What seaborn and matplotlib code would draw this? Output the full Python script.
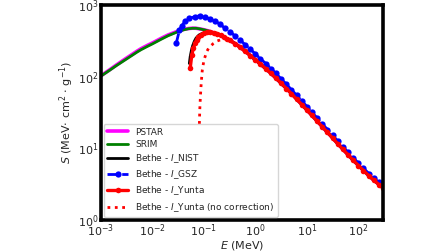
import numpy as np
import matplotlib
matplotlib.use("Agg")
import matplotlib.pyplot as plt
import seaborn as sns

# ---- data (energy in MeV, stopping power in MeV cm^2 / g) ----
E_pstar = [0.001, 0.0015, 0.002, 0.003, 0.004, 0.005, 0.006, 0.008, 0.01, 0.015, 0.02,
           0.03, 0.04, 0.05, 0.06, 0.07, 0.08, 0.1, 0.125, 0.15, 0.2, 0.25, 0.3, 0.4,
           0.5, 0.63, 0.8, 1.0, 1.6, 2.0, 3.15, 4, 5, 6.3, 8, 10, 16, 20, 31.5, 40, 50,
           63, 80, 100, 160, 200, 300]
S_pstar = [103, 126, 146, 178, 204, 227, 246, 274, 296, 345, 382,
           428, 456, 470, 475, 474, 467, 452, 433, 412, 380, 352, 330, 292,
           262, 228, 197, 172, 129.5, 111.8, 81.5, 68.6, 58.2, 48.9, 40.8, 34.4, 23.8, 20.0, 14.0, 11.6, 9.74,
           8.15, 6.80, 5.78, 4.15, 3.60, 2.83]
E_srim = E_pstar
S_srim = [102, 124, 143, 173, 198, 220, 238, 265, 287, 335, 372,
          420, 450, 467, 474, 474, 467, 452, 433, 412, 380, 352, 330, 292,
          262, 228, 197, 172, 129.5, 111.8, 81.5, 68.6, 58.2, 48.9, 40.8, 34.4, 23.8, 20.0, 14.0, 11.6, 9.74,
          8.15, 6.80, 5.78, 4.15, 3.60, 2.83]

E_nist = [0.052, 0.054, 0.057, 0.06, 0.065, 0.07, 0.08, 0.09, 0.1, 0.115, 0.131, 0.155, 0.18,
          0.21, 0.24, 0.28, 0.32, 0.4, 0.5, 0.63, 0.8, 1.0, 2.0, 5, 10, 20, 50, 100, 200, 300]
S_nist = [153, 190, 232, 268, 312, 345, 382, 398, 406, 414, 418, 413, 400,
          382, 363, 340, 322, 288, 258, 226, 196, 171, 111, 57.9, 34.2, 19.9, 9.69, 5.75, 3.58, 2.82]

E_gsz = [0.0289, 0.0334, 0.0371, 0.043, 0.0522, 0.067, 0.084, 0.105, 0.131, 0.164, 0.205,
         0.256, 0.32, 0.40, 0.50, 0.63, 0.8, 1.0, 1.25, 1.6, 2.0, 2.5, 3.15, 4, 5, 6.3, 8,
         10, 12.5, 16, 20, 25, 31.5, 40, 50, 63, 80, 100, 125, 160, 200, 250, 300]
S_gsz = [291, 447, 513, 596, 650, 690, 705, 682, 638, 596, 542,
         474, 423, 372, 326, 280, 241, 207, 178, 152, 130, 111, 93.3, 78.2, 66.0, 55.0, 45.7,
         38.3, 31.9, 26.2, 21.9, 18.3, 15.2, 12.6, 10.5, 8.8, 7.33, 6.21, 5.28, 4.44, 3.84, 3.34, 3.01]

E_yunta = [0.054, 0.058, 0.062, 0.067, 0.072, 0.078, 0.088, 0.1, 0.115, 0.131, 0.155, 0.18,
           0.21, 0.24, 0.28, 0.32, 0.4, 0.5, 0.63, 0.8, 1.0, 1.25, 1.6, 2.0, 2.5, 3.15, 4, 5,
           6.3, 8, 10, 12.5, 16, 20, 25, 31.5, 40, 50, 63, 80, 100, 125, 160, 200, 250, 300]
S_yunta = [131, 200, 248, 291, 328, 358, 388, 405, 416, 419, 413, 400,
           382, 363, 340, 322, 288, 258, 226, 196, 171, 150, 129, 111, 95.6, 81.1, 68.3, 57.9,
           48.7, 40.6, 34.2, 28.8, 23.7, 19.9, 16.7, 13.9, 11.5, 9.69, 8.11, 6.77, 5.75, 4.90,
           4.13, 3.58, 3.12, 2.82]

E_nocorr = [0.0815, 0.083, 0.085, 0.0875, 0.09, 0.093, 0.1, 0.113, 0.125, 0.152, 0.18,
            0.221, 0.26, 0.32, 0.4, 0.5, 0.63, 0.8, 1.0]
S_nocorr = [22, 35, 50, 72, 95, 125, 170, 223, 255, 290, 315,
            331, 336, 320, 288, 258, 226, 196, 171]

labels = ["PSTAR", "SRIM", r"Bethe - $I$_NIST", r"Bethe - $I$_GSZ",
          r"Bethe - $I$_Yunta", r"Bethe - $I$_Yunta (no correction)"]

# ---- plot ----
sns.set_style("white")
plt.rcParams["font.family"] = ["DejaVu Sans"]

fig = plt.figure(figsize=(4.48, 2.52), dpi=100)
ax = fig.add_axes([0.2254, 0.127, 0.6295, 0.853])

sns.lineplot(x=E_pstar, y=S_pstar, ax=ax, color="magenta", lw=2.6, label=labels[0],
             sort=False, estimator=None)
sns.lineplot(x=E_srim, y=S_srim, ax=ax, color="green", lw=2.0, label=labels[1],
             sort=False, estimator=None)
sns.lineplot(x=E_nist, y=S_nist, ax=ax, color="black", lw=2.0, label=labels[2],
             sort=False, estimator=None)
sns.lineplot(x=E_gsz, y=S_gsz, ax=ax, color="blue", lw=2.0, linestyle="--", marker="o",
             markersize=4.5, markeredgewidth=0, label=labels[3], sort=False, estimator=None)
sns.lineplot(x=E_yunta, y=S_yunta, ax=ax, color="red", lw=2.4, marker="o",
             markersize=4, markeredgewidth=0, label=labels[4], sort=False, estimator=None)
sns.lineplot(x=E_nocorr, y=S_nocorr, ax=ax, color="red", lw=2.0, linestyle=":",
             label=labels[5], sort=False, estimator=None)

ax.set_xscale("log")
ax.set_yscale("log")
ax.set_xlim(1e-3, 300)
ax.set_ylim(1, 1000)
ax.set_xticks([1e-3, 1e-2, 1e-1, 1e0, 1e1, 1e2])
ax.set_yticks([1e0, 1e1, 1e2, 1e3])
ax.minorticks_off()
ax.tick_params(which="major", direction="in", length=5, width=2.2, labelsize=8,
               color="black", pad=2)
for s in ax.spines.values():
    s.set_linewidth(2.6)
    s.set_color("black")
    s.set_visible(True)

ax.set_xlabel(r"$E$ (MeV)", fontsize=8, labelpad=0)
ax.set_ylabel(r"$S$ (MeV$\cdot$ cm$^2$ $\cdot$ g$^{-1}$)", fontsize=8, labelpad=1)

ax.legend(loc="lower left", fontsize=6.5, handlelength=2.3, labelspacing=0.38,
          borderaxespad=0.3, framealpha=0.8)

fig.savefig("out.png", dpi=100)
